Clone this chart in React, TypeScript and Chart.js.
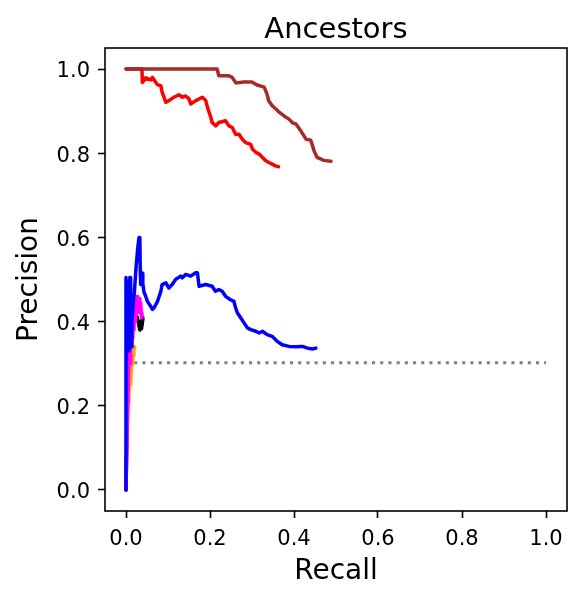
import React, { useEffect, useRef } from "react";
import { Chart, registerables } from "chart.js";
Chart.register(...registerables);

const chartTitle = "Ancestors";
const xAxisLabel = "Recall";
const yAxisLabel = "Precision";
const xTickValues = [0, 0.2, 0.4, 0.6, 0.8, 1.0];
const yTickValues = [0, 0.2, 0.4, 0.6, 0.8, 1.0];

const brownRecall = [0, 0.217, 0.221, 0.245, 0.252, 0.262, 0.280, 0.300, 0.312, 0.329, 0.336, 0.340, 0.349, 0.357, 0.364, 0.371, 0.380, 0.388, 0.397, 0.405, 0.417, 0.429, 0.440, 0.448, 0.455, 0.471, 0.488];
const brownPrecision = [1.0, 1.0, 0.984, 0.984, 0.981, 0.967, 0.969, 0.969, 0.962, 0.957, 0.940, 0.924, 0.912, 0.905, 0.898, 0.893, 0.886, 0.881, 0.872, 0.869, 0.852, 0.833, 0.831, 0.805, 0.790, 0.783, 0.781];

const redRecall = [0, 0.038, 0.039, 0.047, 0.059, 0.063, 0.071, 0.075, 0.083, 0.086, 0.095, 0.102, 0.114, 0.126, 0.134, 0.142, 0.150, 0.154, 0.166, 0.182, 0.190, 0.194, 0.202, 0.205, 0.214, 0.221, 0.237, 0.245, 0.253, 0.261, 0.269, 0.277, 0.285, 0.297, 0.301, 0.309, 0.317, 0.325, 0.333, 0.340, 0.348, 0.356, 0.363];
const redPrecision = [1.0, 1.0, 0.968, 0.979, 0.974, 0.980, 0.968, 0.963, 0.960, 0.945, 0.921, 0.925, 0.933, 0.939, 0.933, 0.936, 0.929, 0.917, 0.925, 0.933, 0.925, 0.909, 0.885, 0.873, 0.865, 0.873, 0.877, 0.865, 0.861, 0.845, 0.845, 0.833, 0.825, 0.821, 0.810, 0.802, 0.798, 0.790, 0.782, 0.778, 0.774, 0.770, 0.768];

const blueRecall = [0, 0, 0.003, 0.005, 0.007, 0.009, 0.011, 0.012, 0.014, 0.017, 0.020, 0.024, 0.028, 0.031, 0.033, 0.034, 0.035, 0.037, 0.039, 0.040, 0.043, 0.047, 0.051, 0.059, 0.063, 0.067, 0.075, 0.083, 0.086, 0.095, 0.102, 0.110, 0.118, 0.130, 0.134, 0.142, 0.154, 0.166, 0.170, 0.174, 0.190, 0.205, 0.213, 0.221, 0.229, 0.237, 0.249, 0.257, 0.261, 0.265, 0.273, 0.281, 0.289, 0.297, 0.309, 0.317, 0.325, 0.336, 0.348, 0.360, 0.372, 0.388, 0.404, 0.420, 0.432, 0.444, 0.452];
const bluePrecision = [0, 0.505, 0.40, 0.33, 0.45, 0.505, 0.505, 0.34, 0.40, 0.44, 0.47, 0.53, 0.575, 0.600, 0.596, 0.52, 0.488, 0.50, 0.515, 0.49, 0.47, 0.460, 0.448, 0.436, 0.429, 0.433, 0.448, 0.472, 0.488, 0.492, 0.480, 0.488, 0.500, 0.508, 0.504, 0.512, 0.508, 0.516, 0.516, 0.484, 0.488, 0.484, 0.472, 0.476, 0.472, 0.460, 0.452, 0.448, 0.433, 0.421, 0.409, 0.397, 0.385, 0.381, 0.377, 0.373, 0.377, 0.369, 0.365, 0.353, 0.345, 0.341, 0.340, 0.341, 0.337, 0.335, 0.337];

const magentaRecall = [0, 0.003, 0.006, 0.008, 0.010, 0.011, 0.013, 0.014, 0.016, 0.017, 0.019, 0.020, 0.022, 0.023, 0.025, 0.027, 0.029, 0.031, 0.033, 0.035, 0.037, 0.038];
const magentaPrecision = [0, 0.15, 0.27, 0.33, 0.30, 0.38, 0.34, 0.41, 0.36, 0.43, 0.38, 0.44, 0.40, 0.45, 0.42, 0.46, 0.43, 0.455, 0.42, 0.445, 0.41, 0.42];

const orangeRecall = [0, 0.003, 0.005, 0.007, 0.009, 0.011, 0.013, 0.015, 0.017, 0.019, 0.021];
const orangePrecision = [0, 0.15, 0.21, 0.23, 0.26, 0.25, 0.29, 0.30, 0.32, 0.335, 0.34];

const blackRecall = [0, 0.004, 0.008, 0.012, 0.015, 0.017, 0.018, 0.022, 0.027, 0.031, 0.033, 0.035, 0.037, 0.039, 0.040, 0.038, 0.036];
const blackPrecision = [0, 0.30, 0.37, 0.41, 0.43, 0.44, 0.40, 0.415, 0.41, 0.39, 0.38, 0.40, 0.383, 0.41, 0.405, 0.39, 0.385];

const baselineRecall = [0, 1.0];
const baselinePrecision = [0.302, 0.302];

function pts(xs: number[], ys: number[]) {
  return xs.map((x, i) => ({ x, y: ys[i] }));
}

const FONT = "'DejaVu Sans', sans-serif";

export default function App() {
  const ref = useRef<HTMLCanvasElement>(null);
  useEffect(() => {
    const canvas = ref.current!;
    const textPlugin = {
      id: "frameAndText",
      afterDraw(chart: any) {
        const c = chart.ctx as CanvasRenderingContext2D;
        const a = chart.chartArea;
        c.save();
        c.strokeStyle = "#000";
        c.lineWidth = 1.6;
        c.strokeRect(a.left, a.top, a.right - a.left, a.bottom - a.top);
        c.fillStyle = "#000";
        c.textAlign = "center";
        c.textBaseline = "alphabetic";
        const cx = (a.left + a.right) / 2;
        c.font = `29px ${FONT}`;
        c.fillText(chartTitle, cx, 38);
        c.font = `28px ${FONT}`;
        c.fillText(xAxisLabel, cx, 579);
        c.translate(37, (a.top + a.bottom) / 2);
        c.rotate(-Math.PI / 2);
        c.fillText(yAxisLabel, 0, 0);
        c.restore();
      },
    };
    const line = (data: any, color: string, extra: any = {}) => ({
      data,
      borderColor: color,
      backgroundColor: color,
      borderWidth: 3.5,
      pointRadius: 0,
      showLine: true,
      fill: false,
      tension: 0,
      borderJoinStyle: "round",
      borderCapStyle: "round",
      ...extra,
    });
    const chart = new Chart(canvas, {
      type: "scatter",
      data: {
        datasets: [
          line(pts(brownRecall, brownPrecision), "#a52a2a"),
          line(pts(redRecall, redPrecision), "#ff0000"),
          line(pts(blueRecall, bluePrecision), "#0000ff"),
          line(pts(magentaRecall, magentaPrecision), "#ff00ff"),
          line(pts(blackRecall, blackPrecision), "#000000"),
          line(pts(orangeRecall, orangePrecision), "#ffa500"),
          line(pts(baselineRecall, baselinePrecision), "#808080", { borderDash: [3.1, 5.1], borderCapStyle: "butt", borderWidth: 3 }),
        ] as any,
      },
      options: {
        responsive: false,
        animation: false,
        devicePixelRatio: 1,
        layout: { padding: { left: 0, top: 48, right: 19, bottom: 0 } },
        plugins: { legend: { display: false }, title: { display: false }, tooltip: { enabled: false } },
        scales: {
          x: {
            type: "linear",
            min: -0.05,
            max: 1.05,
            afterBuildTicks: (s: any) => { s.ticks = xTickValues.map((v) => ({ value: v })); },
            afterFit: (s: any) => { s.height = 90; },
            ticks: { callback: (v: any) => Number(v).toFixed(1), font: { family: FONT, size: 21 }, color: "#000", padding: 9, maxRotation: 0, autoSkip: false },
            grid: { display: true, drawOnChartArea: false, drawTicks: true, tickLength: 7, tickWidth: 1.6, tickColor: "#000" },
            border: { display: false },
          },
          y: {
            type: "linear",
            min: -0.05,
            max: 1.05,
            afterBuildTicks: (s: any) => { s.ticks = yTickValues.map((v) => ({ value: v })); },
            afterFit: (s: any) => { s.width = 105; },
            ticks: { callback: (v: any) => Number(v).toFixed(1), font: { family: FONT, size: 21 }, color: "#000", padding: 8, labelOffset: 3, autoSkip: false },
            grid: { display: true, drawOnChartArea: false, drawTicks: true, tickLength: 7, tickWidth: 1.6, tickColor: "#000" },
            border: { display: false },
          },
        },
      },
      plugins: [textPlugin],
    } as any);
    return () => chart.destroy();
  }, []);
  return (
    <div style={{ position: "absolute", left: 0, top: 0, width: 586, height: 601, background: "#fff" }}>
      <canvas ref={ref} width={586} height={601} style={{ display: "block" }} />
    </div>
  );
}
